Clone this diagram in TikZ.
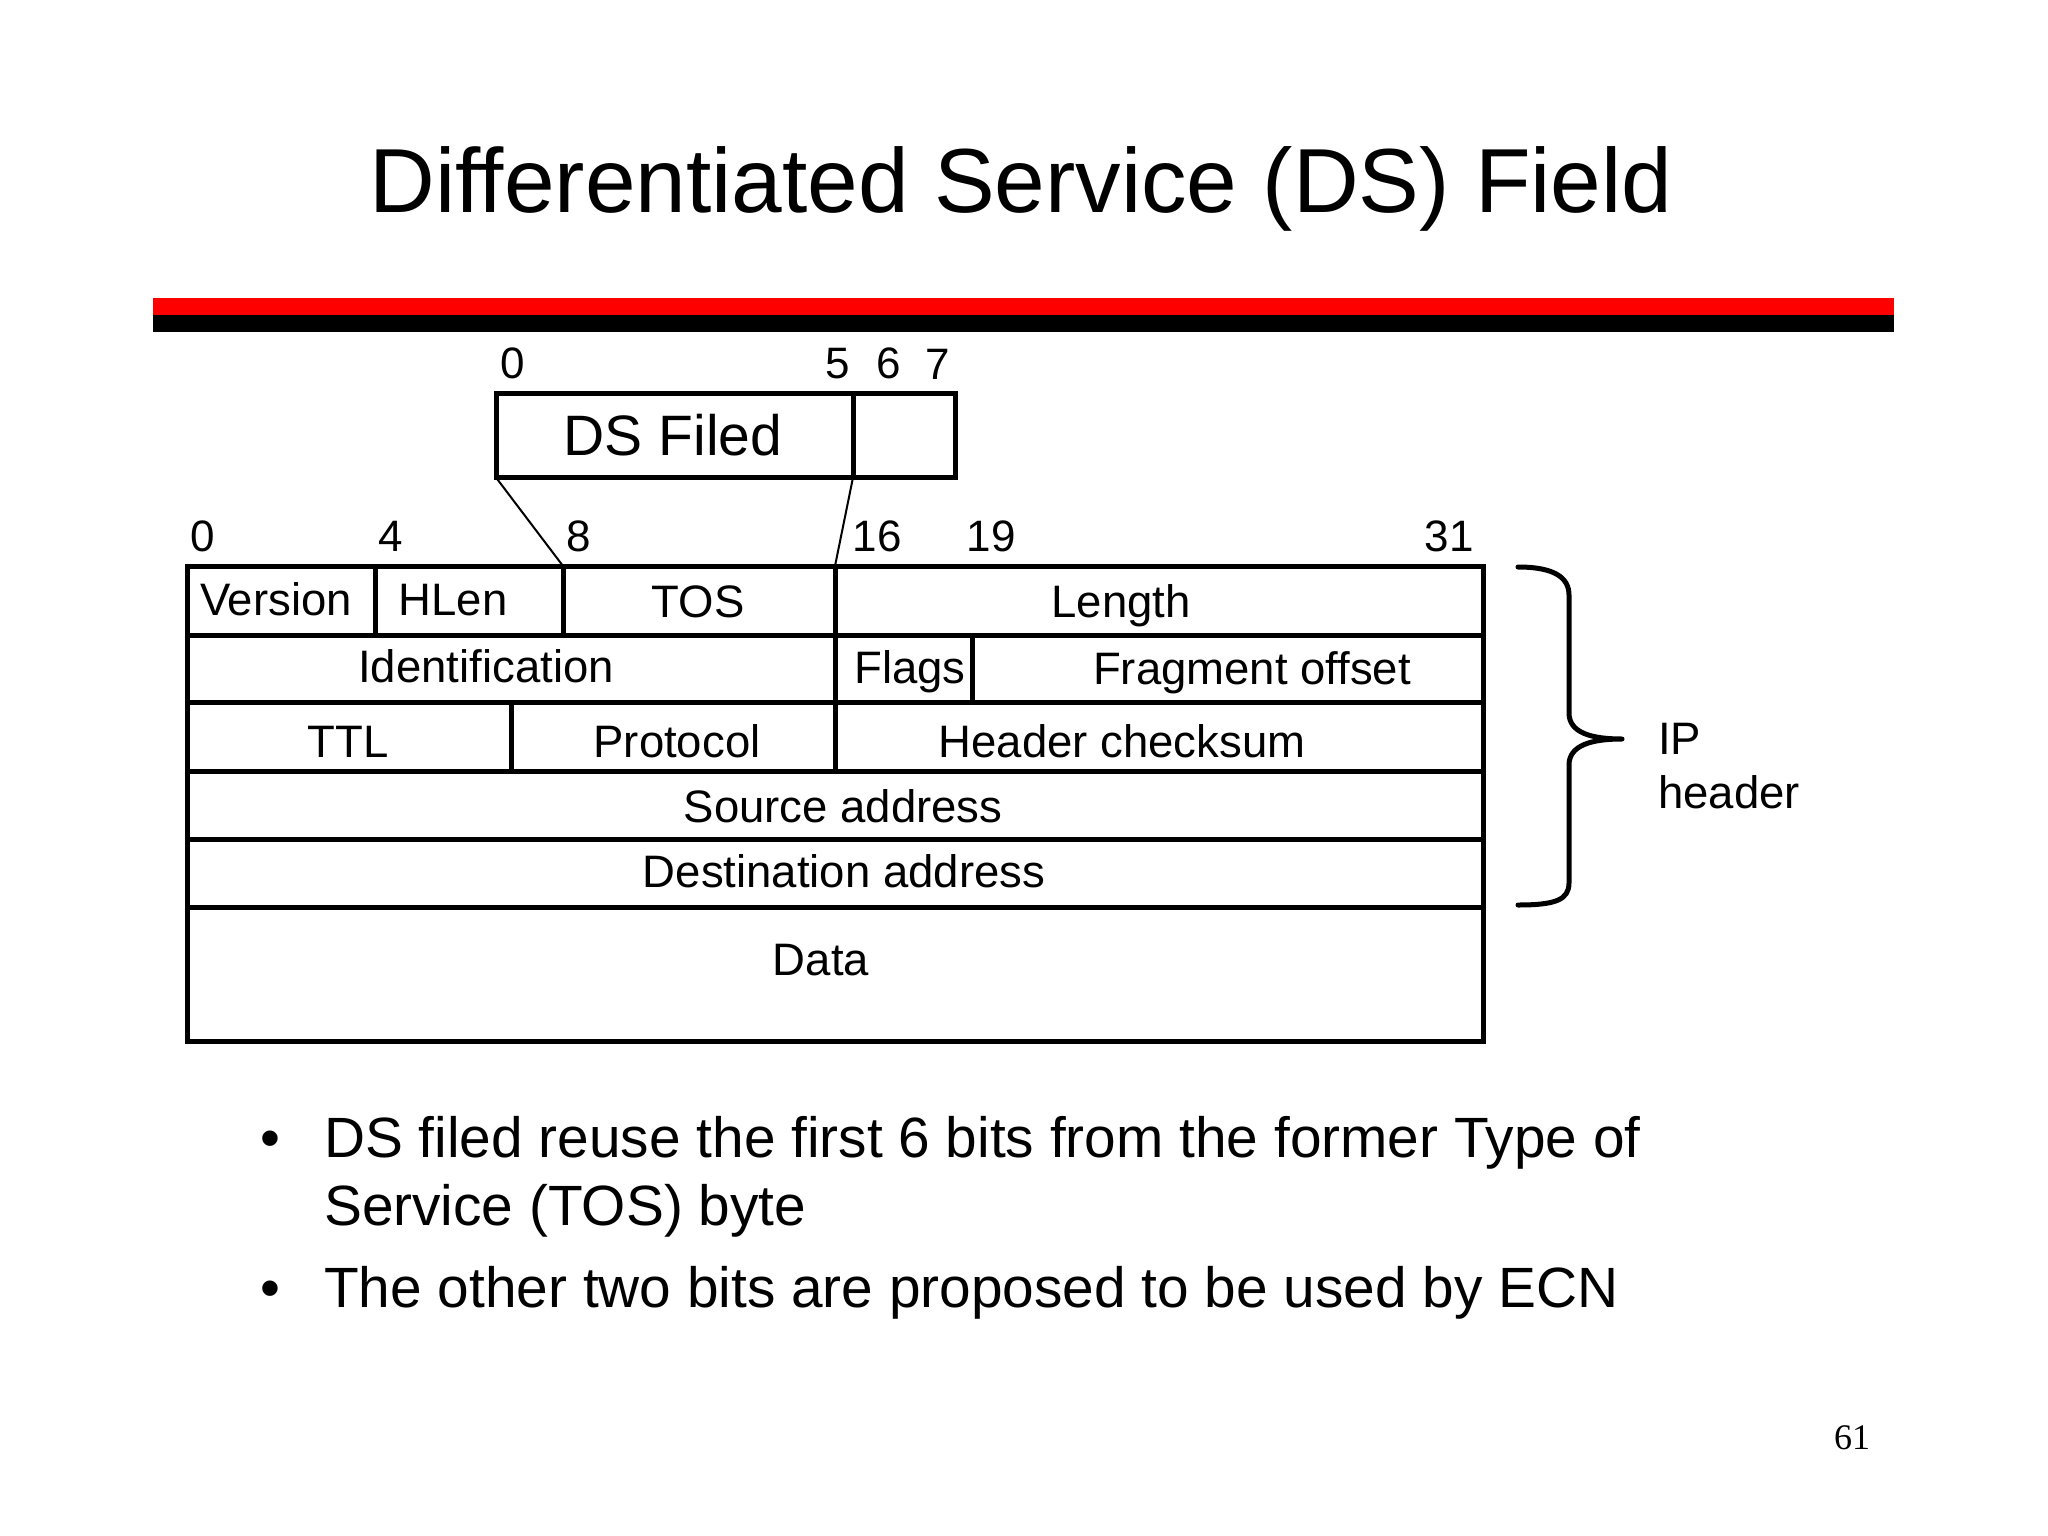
\documentclass[tikz,border=0pt]{standalone}
\usepackage{fontspec}
\setmainfont{Liberation Sans}
\newfontfamily\serifnum{Liberation Serif}
\begin{document}
\begin{tikzpicture}[x=1pt,y=-1pt,
  cell/.style={draw, line width=5pt, inner sep=0pt, outer sep=0pt, anchor=north west},
  num/.style={anchor=base, inner sep=0pt, font=\fontsize{44}{52}\selectfont},
  lbl/.style={anchor=base, inner sep=0pt, font=\fontsize{45.5}{54}\selectfont},
  lbll/.style={anchor=base west, inner sep=0pt, font=\fontsize{45.5}{54}\selectfont},
  bul/.style={anchor=base west, inner sep=0pt, font=\fontsize{56.8}{66}\selectfont},
  link/.style={line width=2pt},
  bracepath/.style={line width=5pt, line cap=round, line join=round}]
\useasboundingbox (0,0) rectangle (2048,1536);
\fill[white] (0,0) rectangle (2048,1536);
\newcommand\fld[5]{\node[cell, minimum width={#4-#2}, minimum height={#5-#3}] (#1) at (#2,#3) {};}
% title
\node[anchor=base, inner sep=0pt, font=\fontsize{91}{100}\selectfont] (title) at (1021,212) {Differentiated Service (DS) Field};
% bars
\fill[red] (153,298) rectangle (1894,315);
\fill[black] (153,315) rectangle (1894,332);
% DS box
\fld{ds}{496}{393.5}{853}{477.5}
\fld{ecn}{853}{393.5}{955}{477.5}
\node[anchor=base, inner sep=0pt, font=\fontsize{57}{66}\selectfont] (dstxt) at (673,455) {DS Filed};
\node[num] (b0) at (513,378) {0};
\node[num] (b5) at (838,378) {5};
\node[num] (b6) at (889,378) {6};
\node[num] (b7) at (938,379) {7};
% bit numbers
\node[num] (n0) at (203,551) {0};
\node[num] (n4) at (391,551) {4};
\node[num] (n8) at (579,551) {8};
\node[num] (n16) at (877,551) {16};
\node[num] (n19) at (991,551) {19};
\node[num] (n31) at (1449,551) {31};
% table
\fld{ver}{187}{566}{375}{635}
\fld{hlen}{375}{566}{563}{635}
\fld{tos}{563}{566}{835}{635}
\fld{len}{835}{566}{1483}{635}
\fld{ident}{187}{635}{835}{702}
\fld{flags}{835}{635}{972}{702}
\fld{frag}{972}{635}{1483}{702}
\fld{ttl}{187}{702}{511}{771}
\fld{proto}{511}{702}{835}{771}
\fld{hcs}{835}{702}{1483}{771}
\fld{src}{187}{771}{1483}{839}
\fld{dst}{187}{839}{1483}{907}
\fld{data}{187}{907}{1483}{1041}
% texts
\node[lbl] (tver) at (276,615) {Version};
\node[lbl] (thlen) at (453,615) {HLen};
\node[lbl] (ttos) at (698,617) {TOS};
\node[lbl] (tlen) at (1121,617) {Length};
\node[lbl] (tident) at (486,682) {Identification};
\node[lbl] (tflags) at (910,683) {Flags};
\node[lbl] (tfrag) at (1252,684) {Fragment offset};
\node[lbl] (tttl) at (348,757) {TTL};
\node[lbl] (tproto) at (677,757) {Protocol};
\node[lbl] (thcs) at (1122,757) {Header checksum};
\node[lbl] (tsrc) at (843,822) {Source address};
\node[lbl] (tdst) at (844,887) {Destination address};
\node[lbl] (tdata) at (821,975) {Data};
% links
\draw[link] (ds.south west) -- (tos.north west);
\draw[link] (ds.south east) -- (tos.north east);
% brace
\draw[bracepath] (1518,567) .. controls (1555,567) and (1569,578) .. (1569,595)
  -- (1569,713) .. controls (1569,733) and (1592,739) .. (1622,739)
  .. controls (1592,739) and (1569,745) .. (1569,765)
  -- (1569,883) .. controls (1569,900) and (1555,905) .. (1518,905);
\node[lbll] (tip) at (1658,754) {IP};
\node[lbll] (thdr) at (1658,808) {header};
% bullets
\node[anchor=base, inner sep=0pt, font=\fontsize{56.8}{66}\selectfont] (bu1) at (270,1157) {•};
\node[bul] (l1) at (324,1157) {DS filed reuse the first 6 bits from the former Type of};
\node[bul] (l2) at (324,1225) {Service (TOS) byte};
\node[anchor=base, inner sep=0pt, font=\fontsize{56.8}{66}\selectfont] (bu2) at (270,1307) {•};
\node[bul] (l3) at (324,1307) {The other two bits are proposed to be used by ECN};
% page number
\node[anchor=base, inner sep=0pt, font=\serifnum\fontsize{36}{42}\selectfont] (pg) at (1852,1449) {61};
\end{tikzpicture}
\end{document}
